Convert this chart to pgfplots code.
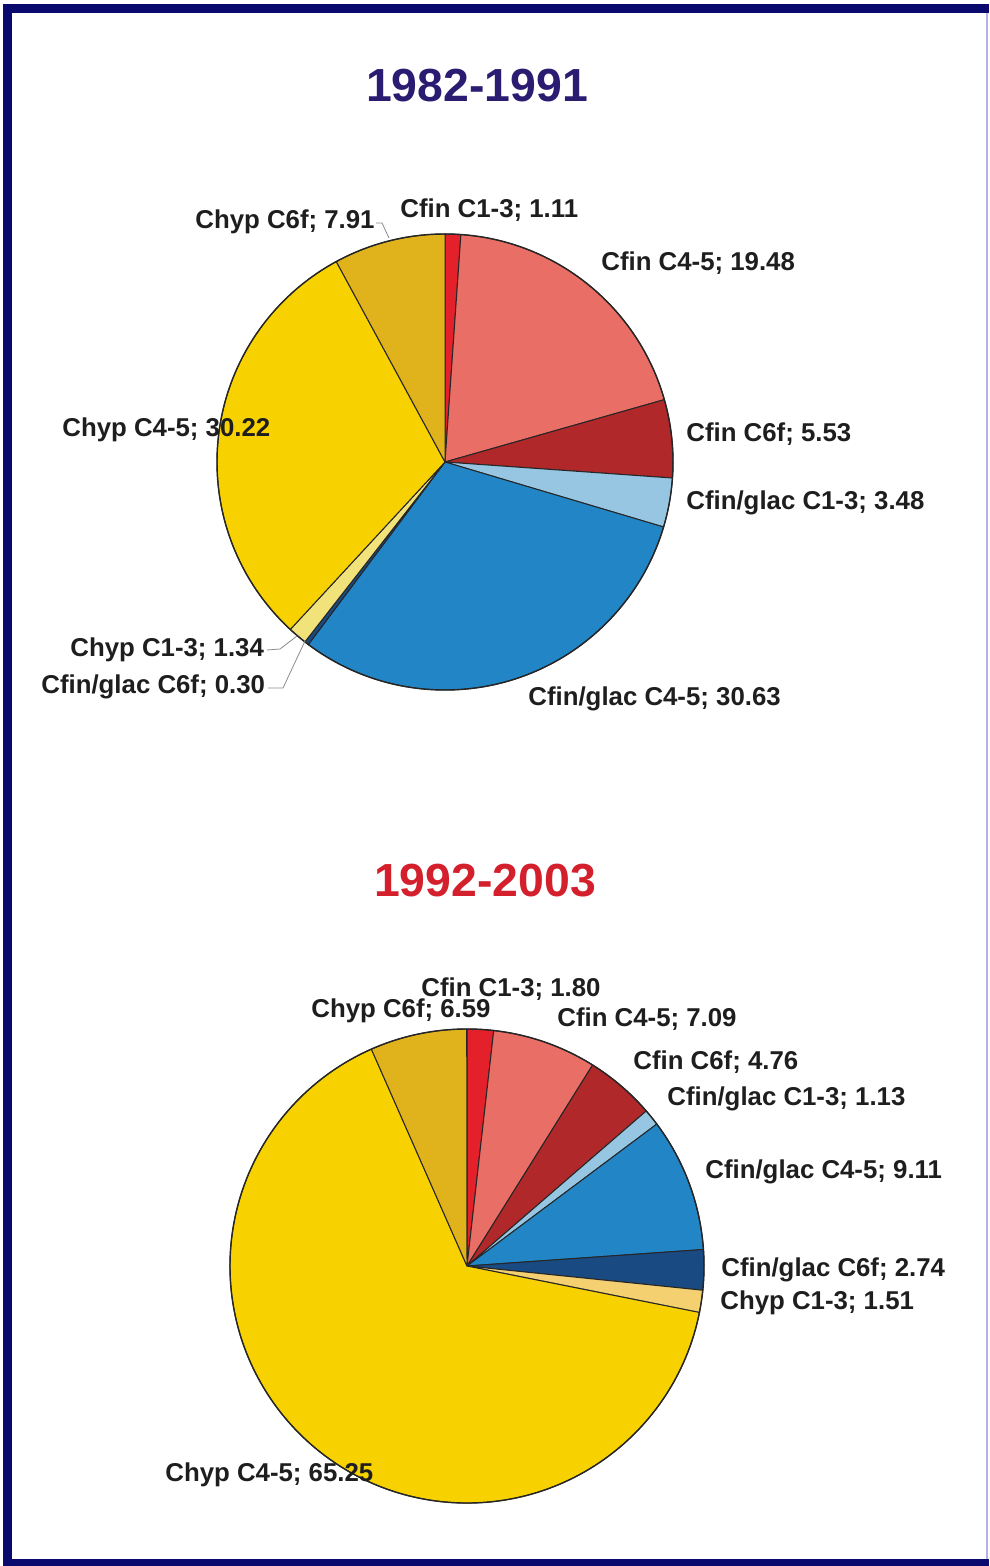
\documentclass[border=0pt]{standalone}
\usepackage{pgfplots}
\usepackage{pgfplotstable}
\pgfplotsset{compat=1.18}
\usepackage{fontspec}
\setmainfont{Liberation Sans}

\definecolor{frameblue}{HTML}{0A0A6E}
\definecolor{titleA}{HTML}{2B1C72}
\definecolor{titleB}{HTML}{D4202C}
\definecolor{lbl}{HTML}{1E1E1E}
\definecolor{cA}{HTML}{E4202A}
\definecolor{cB}{HTML}{E86E66}
\definecolor{cC}{HTML}{B0282A}
\definecolor{cD}{HTML}{96C6E2}
\definecolor{cE}{HTML}{2285C6}
\definecolor{cF}{HTML}{1A4A82}
\definecolor{cG}{HTML}{F2E27A}
\definecolor{cG2}{HTML}{F4D070}
\definecolor{cH}{HTML}{F8D200}
\definecolor{cI}{HTML}{E0B31C}

\pgfplotstableread[col sep=comma]{
name,value,col,lx,ly
Cfin C1-3,1.11,cA,400,210
Cfin C4-5,19.48,cB,601,263
Cfin C6f,5.53,cC,686,434
Cfin/glac C1-3,3.48,cD,686,503
Cfin/glac C4-5,30.63,cE,528,699
Cfin/glac C6f,0.30,cF,41,687
Chyp C1-3,1.34,cG,70,650
Chyp C4-5,30.22,cH,62,430
Chyp C6f,7.91,cI,195,222
}\pieA

\pgfplotstableread[col sep=comma]{
name,value,col,lx,ly
Cfin C1-3,1.80,cA,421,989
Cfin C4-5,7.09,cB,557,1019
Cfin C6f,4.76,cC,633,1062
Cfin/glac C1-3,1.13,cD,667,1099
Cfin/glac C4-5,9.11,cE,705,1172
Cfin/glac C6f,2.74,cF,721,1270
Chyp C1-3,1.51,cG2,720,1303
Chyp C4-5,65.25,cH,165,1475
Chyp C6f,6.59,cI,311,1011
}\pieB

\newcommand\lblfont{\fontsize{12.9}{14}\selectfont\bfseries}

% #1 table, #2 cx, #3 cy, #4 radius (pt)
\newcommand\drawslices[4]{%
  \pgfplotstablegetrowsof{#1}%
  \pgfmathtruncatemacro\N{\pgfplotsretval-1}%
  \def\cum{0}%
  \pgfplotsforeachungrouped \i in {0,...,\N}{%
    \pgfplotstablegetelem{\i}{value}\of#1\let\v\pgfplotsretval
    \pgfplotstablegetelem{\i}{col}\of#1\let\c\pgfplotsretval
    \pgfmathsetmacro\aS{90-3.6*\cum}%
    \pgfmathsetmacro\aE{90-3.6*(\cum+\v)}%
    \pgfmathsetmacro\cum{\cum+\v}%
    \edef\temp{\noexpand\filldraw[fill=\c, draw=black!85, line width=0.5pt, line join=round]
      (axis cs:#2,#3) -- ++(\aS:#4) arc[start angle=\aS, end angle=\aE, radius=#4] -- cycle;}%
    \temp
  }%
  \draw[black!85, line width=0.7pt] (axis cs:#2,#3) circle[radius=#4];
}
\newcommand\drawlabels[1]{%
  \pgfplotstablegetrowsof{#1}%
  \pgfmathtruncatemacro\N{\pgfplotsretval-1}%
  \pgfplotsforeachungrouped \i in {0,...,\N}{%
    \pgfplotstablegetelem{\i}{value}\of#1\let\v\pgfplotsretval
    \pgfplotstablegetelem{\i}{name}\of#1\let\nm\pgfplotsretval
    \pgfplotstablegetelem{\i}{lx}\of#1\let\lx\pgfplotsretval
    \pgfplotstablegetelem{\i}{ly}\of#1\let\ly\pgfplotsretval
    \edef\temp{\noexpand\node[anchor=west, inner sep=0pt, text=lbl, font=\noexpand\lblfont]
      at (axis cs:\lx,\ly) {\nm; \v};}%
    \temp
  }%
}

\begin{document}
\begin{tikzpicture}
\begin{axis}[x=0.5pt, y=0.5pt, xmin=0, xmax=989, ymin=0, ymax=1566,
  y dir=reverse, hide axis, clip=false]
  % background and frame
  \fill[white] (axis cs:0,0) rectangle (axis cs:989,1566);
  \fill[frameblue] (axis cs:3,4) rectangle (axis cs:989,13);
  \fill[frameblue] (axis cs:3,4) rectangle (axis cs:12,1566);
  \fill[frameblue] (axis cs:3,1559) rectangle (axis cs:989,1566);
  \fill[black!35!blue!30] (axis cs:985.5,13) rectangle (axis cs:987.5,1559);

  % titles
  \node[text=titleA, font=\fontsize{23.2}{26}\selectfont\bfseries] at (axis cs:477,86) {1982-1991};
  \node[text=titleB, font=\fontsize{23.2}{26}\selectfont\bfseries] at (axis cs:485,881) {1992-2003};

  % pies
  \drawslices{\pieA}{445}{462}{114pt}
  \drawslices{\pieB}{467}{1266}{118.5pt}

  % leader lines
  \draw[black!45, line width=0.4pt] (axis cs:376,223) -- (axis cs:382,223) -- (axis cs:389,238);
  \draw[black!45, line width=0.4pt] (axis cs:267,650) -- (axis cs:280,649) -- (axis cs:297,636);
  \draw[black!45, line width=0.4pt] (axis cs:268,688) -- (axis cs:283,688) -- (axis cs:305,641);

  % labels
  \drawlabels{\pieA}
  \drawlabels{\pieB}
\end{axis}
\end{tikzpicture}
\end{document}
